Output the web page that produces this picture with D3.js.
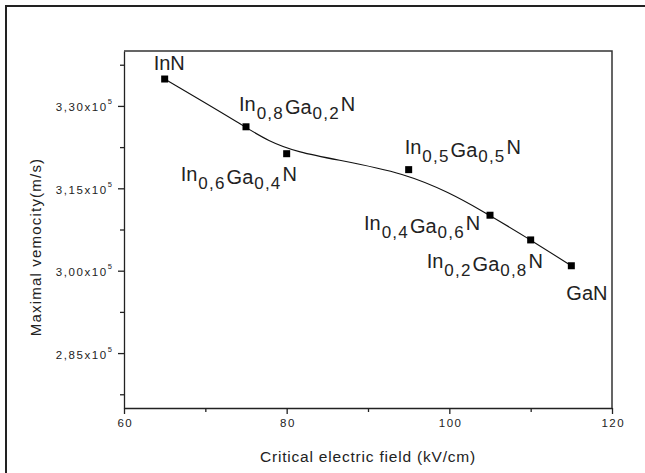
<!DOCTYPE html>
<html>
<head>
<meta charset="utf-8">
<script src="https://cdn.jsdelivr.net/npm/d3@7"></script>
<style>
  body { margin: 0; background: #fff; }
  svg { display: block; font-family: "Liberation Sans", Arial, sans-serif; }
</style>
</head>
<body>
<div id="chart"></div>
<script>
// values (velocity in units of 10^5 m/s)
var compounds = ['InN', 'In_{0,8}Ga_{0,2}N', 'In_{0,6}Ga_{0,4}N', 'In_{0,5}Ga_{0,5}N',
                 'In_{0,4}Ga_{0,6}N', 'In_{0,2}Ga_{0,8}N', 'GaN'];
var fields = [65, 75, 80, 95, 105, 110, 115];
var velocities = [3.349, 3.262, 3.213, 3.184, 3.101, 3.056, 3.009];
var xTicks = [60, 80, 100, 120];
var xMinor = [70, 90, 110];
var yTicks = [2.85, 3.00, 3.15, 3.30];
var yMinor = [2.775, 2.925, 3.075, 3.225, 3.375];

// where each label sits relative to its marker (px)
var labelOffsets = [[-11, -9], [-7, -16], [-106, 27], [-4, -16], [-126, 15], [-104, 28], [-5, 34]];

var width = 645, height = 473;
var plot = {left: 124, right: 612, top: 51, bottom: 408};
var ink = '#222';

var svg = d3.select('#chart').append('svg')
    .attr('width', width)
    .attr('height', height);

// outer frame (right and bottom run off the picture)
svg.append('path')
    .attr('d', 'M6,' + height + 'V6H' + width)
    .attr('fill', 'none')
    .attr('stroke', ink)
    .attr('stroke-width', 2);

var x = d3.scaleLinear().domain([60, 120]).range([plot.left, plot.right]);
var y = d3.scaleLinear().domain([2.75, 3.40]).range([plot.bottom, plot.top]);

// axes
var xAxis = svg.append('g')
    .attr('transform', 'translate(0,' + plot.bottom + ')')
    .call(d3.axisBottom(x).tickValues(xTicks).tickSize(6).tickSizeOuter(0));
xAxis.append('g')
    .call(d3.axisBottom(x).tickValues(xMinor).tickSize(4).tickFormat(''))
    .select('.domain').remove();

var yAxis = svg.append('g')
    .attr('transform', 'translate(' + plot.left + ',0)')
    .call(d3.axisLeft(y).tickValues(yTicks).tickSize(6).tickSizeOuter(0).tickFormat(''));
yAxis.append('g')
    .call(d3.axisLeft(y).tickValues(yMinor).tickSize(4).tickFormat(''))
    .select('.domain').remove();

svg.selectAll('.domain, .tick line').attr('stroke', ink).attr('stroke-width', 1.3);

xAxis.selectAll('.tick text')
    .attr('y', 18.5)
    .attr('dy', 0)
    .attr('dx', 0.8)
    .attr('fill', ink)
    .style('font-size', '11.5px')
    .style('letter-spacing', '1.5px')
    .style('font-family', '"Liberation Sans", Arial, sans-serif');

// y tick labels: "3,30x10^5"
var fmt = d3.format('.2f');
yTicks.forEach(function (v) {
    var t = svg.append('text')
        .attr('x', 112)
        .attr('y', y(v) + 5.5)
        .attr('text-anchor', 'end')
        .attr('fill', ink)
        .style('font-size', '11.5px')
        .style('letter-spacing', '1.6px');
    t.append('tspan').text(fmt(v).replace('.', ',') + 'x10');
    t.append('tspan').attr('dy', -7).style('font-size', '7.5px').style('letter-spacing', '0').text('5');
});

// plot box top + right
svg.append('path')
    .attr('d', 'M' + plot.left + ',' + plot.top + 'H' + plot.right + 'V' + plot.bottom)
    .attr('fill', 'none')
    .attr('stroke', '#333')
    .attr('stroke-width', 1.5);

// axis titles
svg.append('text')
    .attr('x', (plot.left + plot.right) / 2)
    .attr('y', 462)
    .attr('text-anchor', 'middle')
    .attr('fill', ink)
    .style('font-size', '15.5px')
    .style('letter-spacing', '0.8px')
    .text('Critical electric field (kV/cm)');

svg.append('text')
    .attr('transform', 'translate(41,247) rotate(-90)')
    .attr('text-anchor', 'middle')
    .attr('fill', ink)
    .style('font-size', '15px')
    .style('letter-spacing', '1.2px')
    .text('Maximal vemocity(m/s)');

// smoothed line + markers
var pts = fields.map(function (f, i) { return [x(f), y(velocities[i])]; });
svg.append('path')
    .attr('d', d3.line().curve(d3.curveBasis)(pts))
    .attr('fill', 'none')
    .attr('stroke', '#111')
    .attr('stroke-width', 1.1);

svg.selectAll('rect.pt')
    .data(pts)
    .enter().append('rect')
    .attr('class', 'pt')
    .attr('x', function (d) { return d[0] - 3.5; })
    .attr('y', function (d) { return d[1] - 3.5; })
    .attr('width', 7)
    .attr('height', 7)
    .attr('fill', '#000');

// compound labels with subscripts
compounds.forEach(function (name, i) {
    var parts = name.split(/(_\{[^}]*\})/).filter(function (s) { return s.length; });
    var t = svg.append('text')
        .attr('x', pts[i][0] + labelOffsets[i][0])
        .attr('y', pts[i][1] + labelOffsets[i][1])
        .attr('fill', ink)
        .style('font-size', '20px');
    var level = 0, first = true;
    parts.forEach(function (p) {
        var sub = p.charAt(0) === '_';
        var target = sub ? 8 : (first ? 0 : 3);
        if (!sub && p === 'N' && !first) target = 0;
        var s = t.append('tspan')
            .attr('dy', target - level)
            .attr('dx', first ? 0 : 1)
            .text(sub ? p.slice(2, -1) : p);
        if (sub) s.style('font-size', '17px').style('letter-spacing', '1.2px');
        level = target;
        first = false;
    });
});
</script>
</body>
</html>
